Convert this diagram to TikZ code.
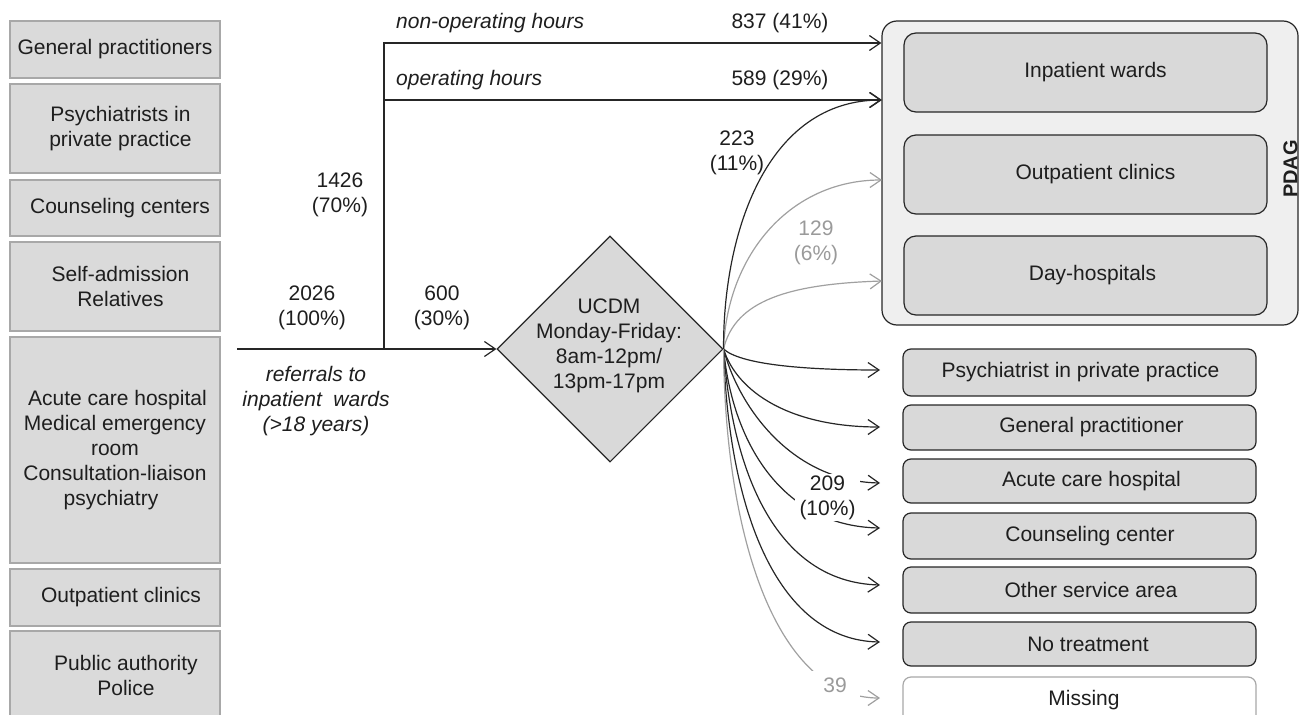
\documentclass[tikz,border=0pt]{standalone}
\usepackage{fontspec}
\setmainfont{Liberation Sans}
\usetikzlibrary{shapes.geometric,arrows.meta}
\definecolor{txt}{HTML}{1E1E1E}
\definecolor{lfill}{HTML}{DADADA}
\definecolor{lborder}{HTML}{A8A8A8}
\definecolor{bfill}{HTML}{D9D9D9}
\definecolor{pfill}{HTML}{EFEFEF}
\definecolor{dk}{HTML}{262626}
\definecolor{gr}{HTML}{A0A0A0}
\definecolor{grtxt}{HTML}{9A9A9A}
\begin{document}
\begin{tikzpicture}[x=1pt,y=-1pt,
  txtst/.style={font=\fontsize{21}{25}\selectfont, text=txt, align=center, inner sep=0pt},
  lbox/.style={txtst, draw=lborder, line width=1.4pt, fill=lfill, minimum width=210pt},
  ibox/.style={txtst, draw=dk, line width=1.2pt, fill=bfill, rounded corners=12pt, minimum width=363pt, minimum height=79pt},
  obox/.style={txtst, draw=dk, line width=1.2pt, fill=bfill, rounded corners=8pt, minimum width=353pt},
  lab/.style={txtst},
  ilab/.style={txtst, font=\fontsize{21}{25}\selectfont\itshape},
  ln/.style={draw=dk, line width=1.2pt},
  arr/.style={ln, -{Straight Barb[length=11pt,width=15pt]}},
  garr/.style={draw=gr, line width=1.2pt, -{Straight Barb[length=11pt,width=15pt]}}
]
\useasboundingbox (0,0) rectangle (1299,715);

% left source boxes
\node[lbox, minimum height=57pt] (l1) at (115,49.5) {General practitioners};
\node[lbox, minimum height=89pt] (l2) at (115,128.5) {\hspace*{11pt}Psychiatrists in\\\hspace*{11pt}private practice};
\node[lbox, minimum height=56pt] (l3) at (115,208) {\hspace*{10pt}Counseling centers};
\node[lbox, minimum height=89pt] (l4) at (115,286.5) {\hspace*{11pt}Self-admission\\\hspace*{11pt}Relatives};
\node[lbox, minimum height=226pt] (l5) at (115,450) {\hspace*{5pt}Acute care hospital\\Medical emergency\\room\hspace*{22pt}\\Consultation-liaison\\psychiatry\hspace*{8pt}};
\node[lbox, minimum height=57pt] (l6) at (115,597.5) {\hspace*{12pt}Outpatient clinics};
\node[lbox, minimum height=89pt] (l7) at (115,675.5) {\hspace*{22pt}Public authority\\\hspace*{22pt}Police};

% PDAG group
\node[draw=dk, line width=1.2pt, fill=pfill, rounded corners=15pt, minimum width=416pt, minimum height=304pt, inner sep=0pt] (pdag) at (1090,173) {};
\node[ibox] (iw) at (1085.5,72.5) {\hspace*{20pt}Inpatient wards};
\node[ibox] (op) at (1085.5,174.5) {\hspace*{20pt}Outpatient clinics};
\node[ibox] (dh) at (1085.5,275.5) {\hspace*{14pt}Day-hospitals};
\node[txtst, font=\fontsize{20}{24}\selectfont\bfseries, rotate=90] (pdaglab) at (1290.5,169) {PDAG};

% lower destination boxes
\node[obox, minimum height=47pt] (psy) at (1079.5,372.5) {\hspace*{2pt}Psychiatrist in private practice};
\node[obox, minimum height=45pt] (gp) at (1079.5,427.5) {\hspace*{24pt}General practitioner};
\node[obox, minimum height=44pt] (ach) at (1079.5,481) {\hspace*{24pt}Acute care hospital};
\node[obox, minimum height=46pt] (cc) at (1079.5,536) {\hspace*{21pt}Counseling center};
\node[obox, minimum height=46pt] (osa) at (1079.5,590) {\hspace*{23pt}Other service area};
\node[obox, minimum height=44pt] (nt) at (1079.5,644) {\hspace*{17pt}No treatment};
\node[obox, draw=lborder, fill=white, minimum height=46pt] (mis) at (1079.5,700) {\hspace*{9pt}Missing};

% UCDM diamond
\node[diamond, draw=dk, line width=1.1pt, fill=bfill, minimum width=226pt, minimum height=226pt, inner sep=0pt] (ucdm) at (610,349) {};
\node[lab] (ucdmtxt) at (609,346) {UCDM\\Monday-Friday:\\8am-12pm/\\13pm-17pm};

% coordinates
\coordinate (start) at (237,349);
\coordinate (split) at (384,349);
\coordinate (top) at (384,43);
\coordinate (mid) at (384,100);
\coordinate (t223) at (882,100);
\coordinate (top1) at (882,180);
\coordinate (top2) at (882,281);
\coordinate (e1) at (880,370);
\coordinate (e2) at (880,427);
\coordinate (e3) at (880,483);
\coordinate (e4) at (880,528);
\coordinate (e5) at (880,585);
\coordinate (e6) at (880,642);
\coordinate (e7) at (880,698);

% main flow
\draw[ln] (start) -- (split);
\draw[arr] (split) -- (ucdm.west);
\draw[arr] (split) -- (top) -- (top -| pdag.west);
\draw[arr] (mid) -- (mid -| pdag.west);

% fan from UCDM
\draw[garr] (ucdm.east) .. controls (727,255) and (790,180) .. (top1);
\draw[garr] (ucdm.east) .. controls (735,300) and (790,284) .. (top2);
\draw[arr] (ucdm.east) .. controls (723,234) and (766,100) .. (t223);
\draw[arr] (ucdm.east) .. controls (740,364) and (800,370) .. (e1);
\draw[arr] (ucdm.east) .. controls (737,392) and (790,427) .. (e2);
\draw[arr] (ucdm.east) .. controls (738,405) and (790,481) .. (e3);
\draw[arr] (ucdm.east) .. controls (732,440) and (780,526) .. (e4);
\draw[arr] (ucdm.east) .. controls (732,470) and (775,582) .. (e5);
\draw[arr] (ucdm.east) .. controls (728,505) and (775,640) .. (e6);
\draw[garr] (ucdm.east) .. controls (725,545) and (780,698) .. (e7);

% labels
\node[ilab, anchor=west] (nonop) at (396,23) {non-operating hours};
\node[ilab, anchor=west] (opl) at (396,80) {operating hours};
\node[lab] (n837) at (780,23) {837 (41\%)};
\node[lab] (n589) at (780,80) {589 (29\%)};
\node[lab] (n1426) at (340,194.5) {1426\\(70\%)};
\node[lab] (n2026) at (312,308) {2026\\(100\%)};
\node[lab] (n600) at (442,308) {600\\(30\%)};
\node[ilab] (refl) at (316,401) {referrals to\\inpatient~ wards\\(>18 years)};
\node[lab] (n223) at (737,153) {223\\(11\%)};
\node[lab, text=grtxt] (n129) at (816,243) {129\\(6\%)};
\node[lab, fill=white, minimum width=65pt, minimum height=47pt] (n209) at (827.5,497.5) {209\\(10\%)};
\node[lab, text=grtxt, fill=white, minimum width=50pt, minimum height=28pt] (n39) at (835,685) {39};
\end{tikzpicture}
\end{document}
